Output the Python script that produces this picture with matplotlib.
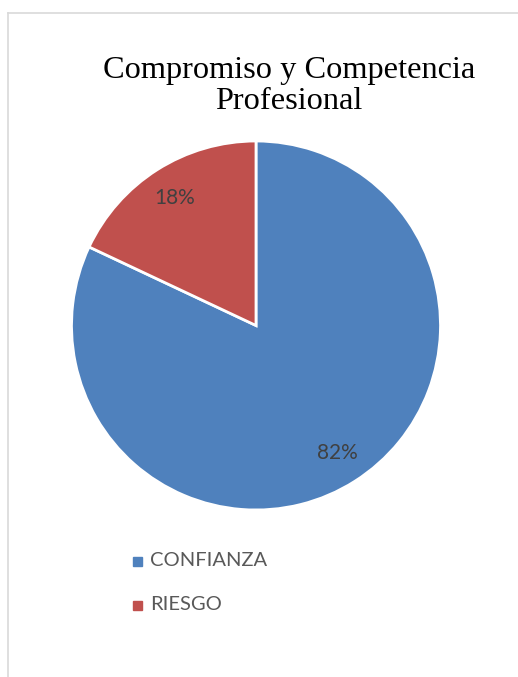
import matplotlib
matplotlib.use("Agg")
import matplotlib.pyplot as plt
from matplotlib.patches import Rectangle

categories = ["CONFIANZA", "RIESGO"]
values = [82, 18]
colors = ["#4F81BD", "#C0504D"]

W, H = 518, 677
fig = plt.figure(figsize=(W / 100, H / 100), dpi=100)

# chart frame (only top and left edges visible)
fig.add_artist(plt.Line2D([8 / W, 1], [1 - 13 / H, 1 - 13 / H], color="#d9d9d9", lw=1.2))
fig.add_artist(plt.Line2D([8 / W, 8 / W], [0, 1 - 13 / H], color="#d9d9d9", lw=1.2))

fig.text(289 / W, 1 - 86 / H, "Compromiso y Competencia\nProfesional",
         ha="center", va="center", family="Liberation Serif", fontsize=23.3,
         linespacing=1.12, color="black")

cx, cy, r = 256, 325.5, 184.5
ax = fig.add_axes([(cx - r) / W, 1 - (cy + r) / H, 2 * r / W, 2 * r / H])
wedges, texts, autotexts = ax.pie(values, colors=colors, startangle=90, counterclock=False,
                                  autopct="%1.0f%%", pctdistance=0.82,
                                  wedgeprops=dict(edgecolor="white", linewidth=2),
                                  textprops=dict(color="#404040", fontsize=15, family="Lato"))
ax.set_aspect("equal")
ax.set_xlim(-1, 1)
ax.set_ylim(-1, 1)

# legend entries
for i, (cat, col) in enumerate(zip(categories, colors)):
    y = 561 + i * 44
    fig.add_artist(Rectangle((133 / W, 1 - (y + 4.5) / H), 9 / W, 9 / H, color=col,
                             transform=fig.transFigure))
    fig.text(150 / W, 1 - y / H, cat, ha="left", va="center", family="Lato",
             fontsize=14.5, color="#595959")

fig.savefig("out.png", dpi=100)
